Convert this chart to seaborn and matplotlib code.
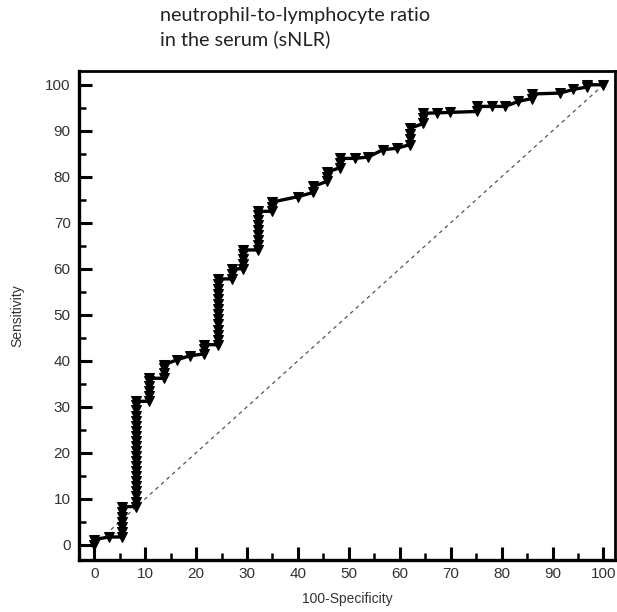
import numpy as np
import pandas as pd
import seaborn as sns
import matplotlib.pyplot as plt
from matplotlib.ticker import MultipleLocator

# ROC points: 100-specificity (x) and sensitivity (y)
fpr=[0,0,2.8,5.4,5.4,5.4,5.4,5.4,5.4,5.4,
    8.2,8.2,8.2,8.2,8.2,8.2,8.2,8.2,8.2,8.2,8.2,8.2,8.2,8.2,8.2,8.2,8.2,8.2,8.2,8.2,8.2,8.2,
    10.8,10.8,10.8,10.8,10.8,10.8,
    13.6,13.6,13.6,13.6,
    16.2,18.8,21.6,21.6,21.6,
    24.4,24.4,24.4,24.4,24.4,24.4,24.4,24.4,24.4,24.4,24.4,24.4,24.4,24.4,
    27.0,27.0,27.0,
    29.3,29.3,29.3,29.3,29.3,
    32.2,32.2,32.2,32.2,32.2,32.2,32.2,32.2,32.2,
    34.9,34.9,34.9,
    40.1,43.0,43.0,45.7,45.7,45.7,
    48.3,48.3,48.3,51.2,53.8,56.7,59.4,
    62.0,62.0,62.0,62.0,
    64.6,64.6,64.6,
    67.3,69.9,75.1,75.1,78.1,80.7,83.3,85.9,85.9,
    91.5,94.1,96.7,96.7,100]
sens=[0,1.1,1.7,1.7,2.8,3.9,5.0,6.1,7.2,8.3,
    8.3,9.4,10.5,11.6,12.7,13.8,14.9,16.0,17.1,18.2,19.3,20.4,21.5,22.6,23.7,24.8,25.9,27.0,28.1,29.2,30.3,31.2,
    31.2,32.3,33.4,34.5,35.6,36.2,
    36.2,37.3,38.4,39.1,
    40.2,41.1,41.5,42.5,43.5,
    43.5,44.6,45.7,46.8,47.9,49.0,50.1,51.2,52.3,53.4,54.5,55.6,56.7,57.8,
    57.8,58.9,60.0,
    60.0,61.1,62.2,63.3,64.1,
    64.1,65.2,66.3,67.4,68.5,69.6,70.7,71.8,72.5,
    72.5,73.5,74.5,
    75.7,76.6,77.9,79.0,80.0,81.0,
    82.0,83.1,84.0,84.0,84.3,85.9,86.2,
    87.0,88.2,89.4,90.5,
    91.6,92.7,93.8,
    93.9,94.0,94.2,95.3,95.3,95.3,96.4,97.0,98.0,
    98.2,99.0,99.5,100,100]
diag=[0,100]

title="neutrophil-to-lymphocyte ratio\nin the serum (sNLR)"

sns.set_theme(style="white")
plt.rcParams["font.family"]=["Liberation Sans","DejaVu Sans"]

fg=plt.figure(figsize=(6.17,6.12),dpi=100)
ax=fg.add_axes([0.128,0.085,0.869,0.799])

roc=pd.DataFrame({"fpr":fpr,"sens":sens})
dg=pd.DataFrame({"x":diag,"y":diag})

sns.lineplot(data=dg,x="x",y="y",ax=ax,color="#555555",
    linewidth=0.9,linestyle=(0,(3,3)),estimator=None,sort=False)
sns.lineplot(data=roc,x="fpr",y="sens",ax=ax,color="black",
    linewidth=2.4,marker="v",markersize=7.5,markeredgecolor="black",
    estimator=None,sort=False)

ax.set_xlim(-3.0,102.3)
ax.set_ylim(-3.3,103)
ax.xaxis.set_major_locator(MultipleLocator(10))
ax.xaxis.set_minor_locator(MultipleLocator(5))
ax.yaxis.set_major_locator(MultipleLocator(10))
ax.yaxis.set_minor_locator(MultipleLocator(5))
ax.tick_params(which="both",direction="in",colors="black",
    bottom=True,left=True,top=False,right=False)
ax.tick_params(which="major",length=9.5,width=2.2)
ax.tick_params(which="minor",length=5,width=1.8)
ax.tick_params(axis="x",which="major",pad=5,labelsize=11,labelcolor="#333333")
ax.tick_params(axis="y",which="major",pad=6,labelsize=11,labelcolor="#333333")
for s in ["left","bottom"]:
    ax.spines[s].set_linewidth(2.4)
for s in ["top","right"]:
    ax.spines[s].set_linewidth(2.0)
for s in ax.spines.values():
    s.set_color("black")

ax.set_xlabel("100-Specificity",fontsize=10,color="#333333",labelpad=8)
ax.set_ylabel("Sensitivity",fontsize=10,color="#333333",labelpad=15)

fg.text(160/617,1-7/612,title,ha="left",va="top",fontsize=14.3,
    family=["Lato","DejaVu Sans"],color="#222222",linespacing=1.45)

fg.savefig("out.png",dpi=100,facecolor="white")
